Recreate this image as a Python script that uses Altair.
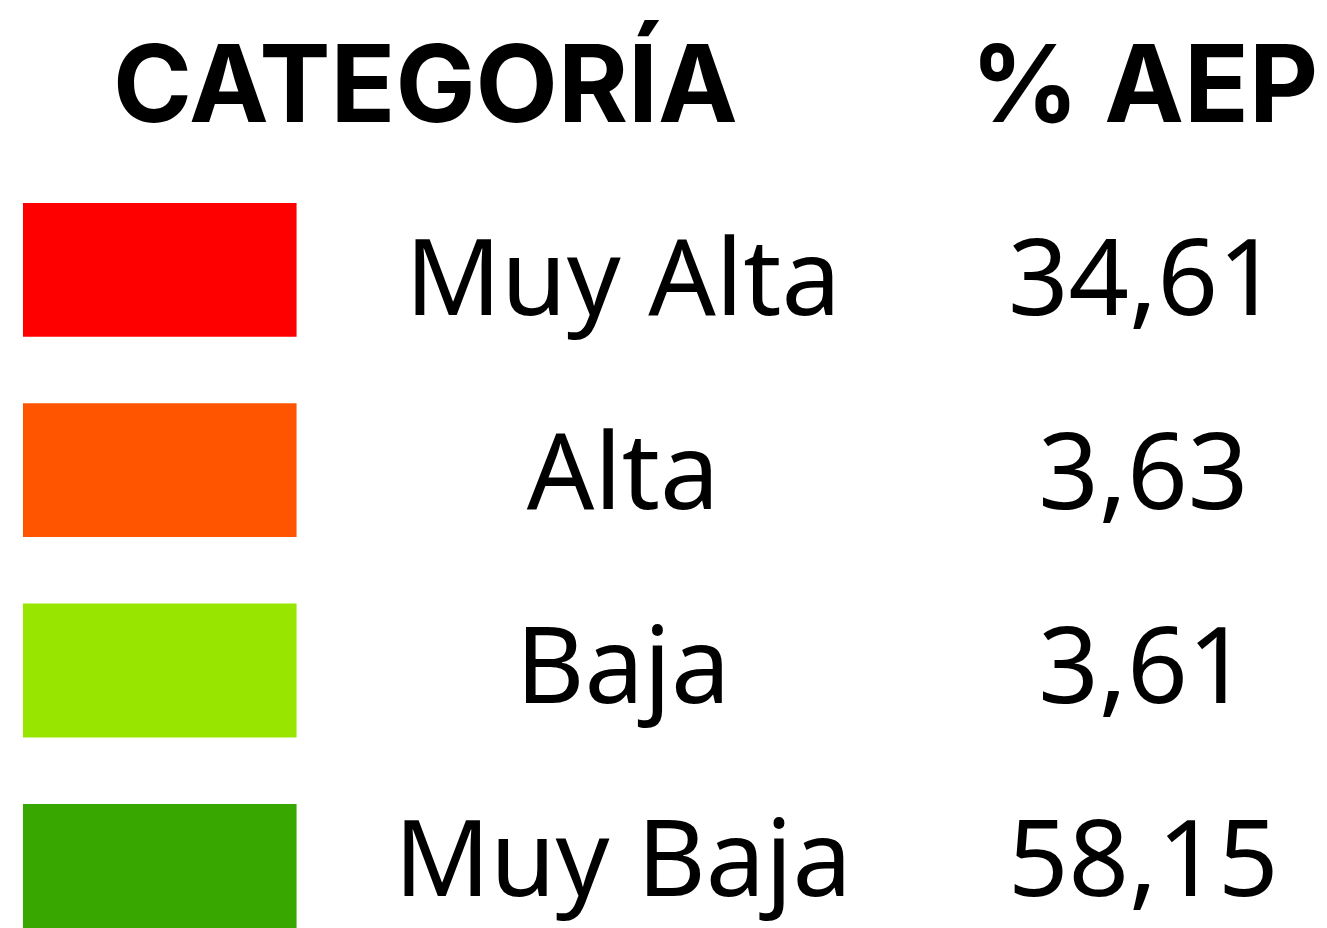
import altair as alt
import pandas as pd

categories = ["Muy Alta", "Alta", "Baja", "Muy Baja"]
pct_aep = [34.61, 3.63, 3.61, 58.15]
colors = ["#FF0000", "#FF5500", "#98E600", "#38A800"]
headers = ["CATEGORÍA", "% AEP"]

df = pd.DataFrame({
    "cat": categories,
    "pct": pct_aep,
    "row": list(range(1, len(categories) + 1)),
})
hdr = pd.DataFrame({"label": headers, "row": [0, 0], "col": ["cat", "val"]})

FONT = "Noto Sans"
HFONT = "Inter"
FS = 106
HFS = 107

text_y = alt.Y("row:Q", scale=alt.Scale(domain=[-0.5825, 4.572], reverse=True, zero=False, nice=False), axis=None)

base = alt.Chart(df)

swatches = base.transform_calculate(
    r0="datum.row - 1 - 0.334", r1="datum.row - 1 + 0.334"
).mark_rect().encode(
    x=alt.value(15), x2=alt.value(289),
    y=alt.Y("r0:Q", scale=alt.Scale(domain=[-1.3036, 3.681], reverse=True, zero=False, nice=False), axis=None),
    y2="r1:Q",
    color=alt.Color("cat:N", scale=alt.Scale(domain=categories, range=colors), legend=None),
)

cat_text = base.mark_text(font=FONT, fontSize=FS, baseline="alphabetic", align="center", color="black").encode(
    x=alt.value(616), y=text_y, text="cat:N"
)

val_text = base.transform_calculate(
    lbl="replace(format(datum.pct, '.2f'), '.', ',')"
).mark_text(font=FONT, fontSize=FS, baseline="alphabetic", align="center", color="black").encode(
    x=alt.value(1137), y=text_y, text="lbl:N"
)

hdr_cat = alt.Chart(hdr).transform_filter("datum.col == 'cat'").mark_text(
    font=HFONT, fontSize=HFS, fontWeight="bold", baseline="alphabetic", align="center", color="black"
).encode(x=alt.value(418), y=text_y, text="label:N")

hdr_val = alt.Chart(hdr).transform_filter("datum.col == 'val'").mark_text(
    font=HFONT, fontSize=HFS, fontWeight="bold", baseline="alphabetic", align="center", color="black"
).encode(x=alt.value(1138), y=text_y, text="label:N")

chart = alt.layer(swatches, hdr_cat, hdr_val, cat_text, val_text).resolve_scale(
    y="independent"
).properties(
    width=1311, height=1000, padding=0, background="white"
).configure_view(stroke=None)

chart.save("out.html", embed_options={"renderer": "svg", "actions": False})
